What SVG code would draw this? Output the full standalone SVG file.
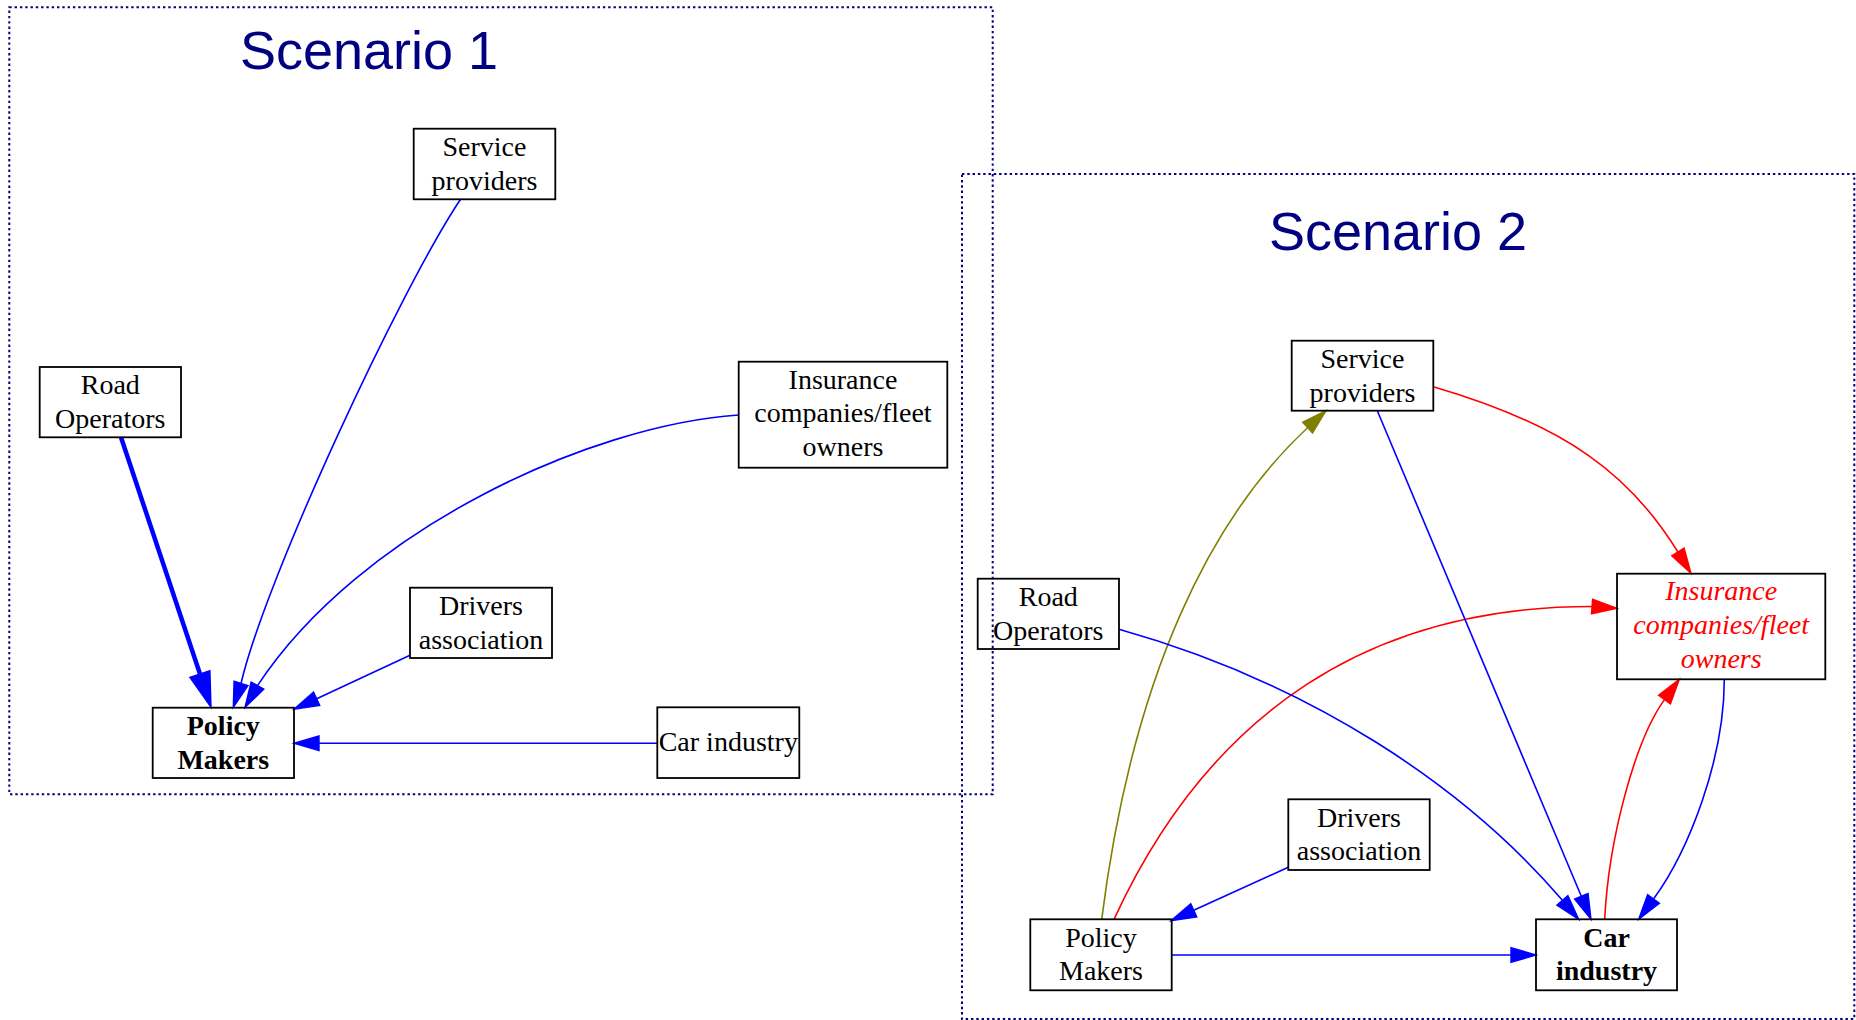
<svg xmlns="http://www.w3.org/2000/svg" width="1856" height="1020" viewBox="0 0 1856 1020">
<style>
.cluster{fill:none;stroke:#000080;stroke-width:2;stroke-dasharray:2.4 2.9}
.title{font-family:"Liberation Sans",Arial,sans-serif;font-size:54px;fill:#000080;text-anchor:middle}
.box{fill:none;stroke:#000;stroke-width:1.8}
.lbl{font-family:"Liberation Serif","Times New Roman",serif;font-size:28px;fill:#000;text-anchor:middle}
.bold{font-weight:bold}
.ital{font-style:italic;fill:#ff0000}
.e{fill:none;stroke-width:1.6}
.blue{stroke:#0000ff}
.red{stroke:#ff0000}
.olive{stroke:#808000}
.hb{fill:#0000ff;stroke:#0000ff;stroke-width:1.4}
.hr{fill:#ff0000;stroke:#ff0000;stroke-width:1.4}
.ho{fill:#808000;stroke:#808000;stroke-width:1.4}
</style>
<rect width="1856" height="1020" fill="#fff"/>
<g id="cluster1">
<rect class="cluster" x="9.3" y="7.3" width="983.4" height="787"/>
<text class="title" x="369" y="69.3">Scenario 1</text>
</g>
<g id="cluster2">
<rect class="cluster" x="962" y="174" width="892.3" height="845"/>
<text class="title" x="1398" y="250">Scenario 2</text>
</g>
<g id="connectors">
<!-- Scenario 1 -->
<path class="e blue" style="stroke-width:4.5" d="M121,437.3 L200.5,675.5"/>
<polygon class="hb" points="189.9,677.4 211,707.3 209.9,670.8"/>
<path class="e blue" d="M460.7,199 C400,290 265,580 241,683.5"/>
<polygon class="hb" points="234.06,681.25 233.3,707.3 247.94,685.75"/>
<path class="e blue" d="M738.7,415 C590,425 360,530 257.5,685.6"/>
<polygon class="hb" points="251.17,681.96 245,707.3 263.83,689.24"/>
<path class="e blue" d="M410,655.3 L316.7,698.8"/>
<polygon class="hb" points="313.59,692.13 294,709.3 319.75,705.37"/>
<path class="e blue" d="M657.3,743.3 L319,743.3"/>
<polygon class="hb" points="319,736 294,743.3 319,750.6"/>
<!-- Scenario 2 -->
<path class="e olive" d="M1101.7,919.3 C1133,671.5 1212.4,516.4 1307.3,428"/>
<polygon class="ho" points="1312.6,433 1326,410.7 1302.7,422.3"/>
<path class="e red" d="M1114,919.3 C1210.6,710 1372,606.5 1592,606.5"/>
<polygon class="hr" points="1591.5,613.8 1617,608.3 1592.6,599.2"/>
<path class="e blue" d="M1119,629.3 C1311,683.3 1464.9,786.3 1562.4,900.3"/>
<polygon class="hb" points="1556.9,905.05 1578.7,919.3 1567.9,895.55"/>
<path class="e blue" d="M1377.3,410.7 L1581.3,896.3"/>
<polygon class="hb" points="1574.58,899.08 1591,919.3 1588.04,893.42"/>
<path class="e red" d="M1433.3,386.7 C1567.7,425.9 1630.7,475.3 1677.9,552"/>
<polygon class="hr" points="1671.7,555.8 1691,573.3 1684.1,548.2"/>
<path class="e blue" d="M1724.3,679.3 C1724.3,759.3 1688.9,850.4 1653.5,899"/>
<polygon class="hb" points="1647.6,894.7 1638.7,919.3 1659.4,903.3"/>
<path class="e red" d="M1604.7,919.3 C1608.7,839.3 1635,740.1 1664.5,699.6"/>
<polygon class="hr" points="1670.4,703.9 1679.3,679.3 1658.6,695.3"/>
<path class="e blue" d="M1288.3,867.3 L1193.75,910.35"/>
<polygon class="hb" points="1190.73,903.7 1171,920.7 1196.77,916.98"/>
<path class="e blue" d="M1171.7,955 L1511,955"/>
<polygon class="hb" points="1511,947.7 1536,955 1511,962.3"/>
</g>
<g id="s1_service">
<rect class="box" x="413.7" y="128.7" width="141.6" height="70.6"/>
<text class="lbl" x="484.5" y="156.2">Service</text>
<text class="lbl" x="484.5" y="189.8">providers</text>
</g>
<g id="s1_road">
<rect class="box" x="39.7" y="367" width="141.3" height="70.3"/>
<text class="lbl" x="110.3" y="394.3">Road</text>
<text class="lbl" x="110.3" y="427.9">Operators</text>
</g>
<g id="s1_insurance">
<rect class="box" x="738.7" y="361.7" width="208.6" height="106"/>
<text class="lbl" x="843" y="388.5">Insurance</text>
<text class="lbl" x="843" y="422.1">companies/fleet</text>
<text class="lbl" x="843" y="455.7">owners</text>
</g>
<g id="s1_drivers">
<rect class="box" x="410" y="587.7" width="142" height="70.3"/>
<text class="lbl" x="481" y="615">Drivers</text>
<text class="lbl" x="481" y="648.6">association</text>
</g>
<g id="s1_policy">
<rect class="box" x="152.7" y="707.7" width="141.3" height="70.3"/>
<text class="lbl bold" x="223.3" y="735">Policy</text>
<text class="lbl bold" x="223.3" y="768.6">Makers</text>
</g>
<g id="s1_car">
<rect class="box" x="657.3" y="707.3" width="142" height="70.7"/>
<text class="lbl" x="728.3" y="750.7">Car industry</text>
</g>
<g id="s2_service">
<rect class="box" x="1291.7" y="340.7" width="141.6" height="70"/>
<text class="lbl" x="1362.5" y="368">Service</text>
<text class="lbl" x="1362.5" y="401.6">providers</text>
</g>
<g id="s2_road">
<rect class="box" x="977.7" y="578.7" width="141.3" height="70.3"/>
<text class="lbl" x="1048.3" y="606">Road</text>
<text class="lbl" x="1048.3" y="639.6">Operators</text>
</g>
<g id="s2_insurance">
<rect class="box" x="1617" y="573.7" width="208.3" height="105.6"/>
<text class="lbl ital" x="1721.2" y="600.3">Insurance</text>
<text class="lbl ital" x="1721.2" y="633.9">companies/fleet</text>
<text class="lbl ital" x="1721.2" y="667.5">owners</text>
</g>
<g id="s2_drivers">
<rect class="box" x="1288.3" y="799.3" width="141.4" height="70.7"/>
<text class="lbl" x="1359" y="826.7">Drivers</text>
<text class="lbl" x="1359" y="860.3">association</text>
</g>
<g id="s2_policy">
<rect class="box" x="1030.3" y="919.3" width="141.4" height="71"/>
<text class="lbl" x="1101" y="946.7">Policy</text>
<text class="lbl" x="1101" y="980.3">Makers</text>
</g>
<g id="s2_car">
<rect class="box" x="1536" y="919.3" width="141" height="71"/>
<text class="lbl bold" x="1606.5" y="946.7">Car</text>
<text class="lbl bold" x="1606.5" y="980.3">industry</text>
</g>
</svg>
